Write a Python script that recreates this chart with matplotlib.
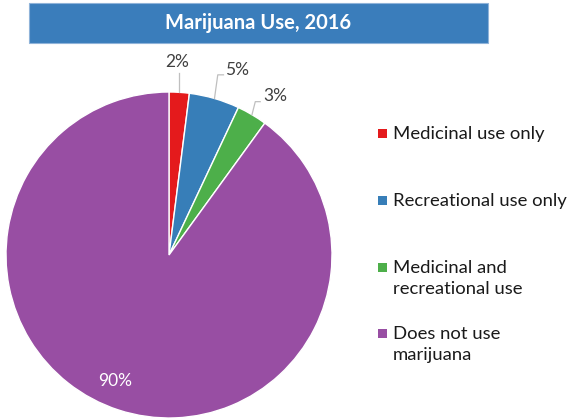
import numpy as np
import matplotlib.pyplot as plt
from matplotlib.patches import Rectangle

categories = ["Medicinal use only", "Recreational use only",
              "Medicinal and\nrecreational use", "Does not use\nmarijuana"]
shares = [2, 5, 3, 90]
labels = ["2%", "5%", "3%", "90%"]
colors = ["#e41a1c", "#377eb8", "#4daf4a", "#984ea3"]
title = "Marijuana Use, 2016"

plt.rcParams['font.family'] = ['Lato', 'DejaVu Sans']

W, H = 569, 420
fig = plt.figure(figsize=(W / 100, H / 100), dpi=100)

# title banner
fig.patches.append(Rectangle((29 / W, 1 - 43 / H), 459 / W, 40 / H,
                             transform=fig.transFigure, facecolor="#3a7dbb",
                             edgecolor="#8fb3d9", linewidth=0.8))
fig.text(258 / W, 1 - 23 / H, title, color="white", fontsize=14.5,
         fontweight="bold", ha="center", va="center")

# pie
cx, cy, r = 169, 255, 163
ax = fig.add_axes([(cx - r) / W, (H - cy - r) / H, 2 * r / W, 2 * r / H])
wedges, _ = ax.pie(shares, colors=colors, startangle=90, counterclock=False,
                   radius=1, wedgeprops=dict(edgecolor="white", linewidth=1))
ax.set_xlim(-1, 1)
ax.set_ylim(-1, 1)
ax.set_axis_off()

# outside labels with leader lines (first three slices)
# (line rise, horizontal run, text dx, text dy) in data units
leaders = [(0.12, 0.0, -0.01, 0.065),
           (0.145, 0.035, 0.085, 0.03),
           (0.08, 0.03, 0.095, 0.035)]
for w, lab, (rise, run, tdx, tdy) in zip(wedges[:3], labels[:3], leaders):
    mid = np.deg2rad((w.theta1 + w.theta2) / 2)
    x0, y0 = np.cos(mid), np.sin(mid)
    x1 = x0 + rise * np.cos(mid) * 0.5 if run else x0
    y1 = y0 + rise
    x2 = x1 + run
    ax.plot([x0, x1, x2], [y0, y1, y1], color="#bfbfbf", lw=0.9,
            clip_on=False)
    ax.text(x2 + tdx, y1 + tdy, lab, fontsize=12.5, color="#404040",
            ha="center", va="center")

w = wedges[3]
mid = np.deg2rad((w.theta1 + w.theta2) / 2 - 5)
ax.text(0.84 * np.cos(mid), 0.84 * np.sin(mid), labels[3], fontsize=12.5,
        color="white", ha="center", va="center")

# legend
leg_y = [133, 200, 267, 333]
for name, col, y in zip(categories, colors, leg_y):
    fig.patches.append(Rectangle((378 / W, 1 - (y + 5) / H), 9 / W, 9 / H,
                                 transform=fig.transFigure, facecolor=col,
                                 edgecolor="none"))
    fig.text(393 / W, 1 - (y - 7) / H, name, fontsize=13.3, color="#1a1a1a",
             ha="left", va="top", linespacing=1.38)

fig.savefig("out.png", dpi=100)
